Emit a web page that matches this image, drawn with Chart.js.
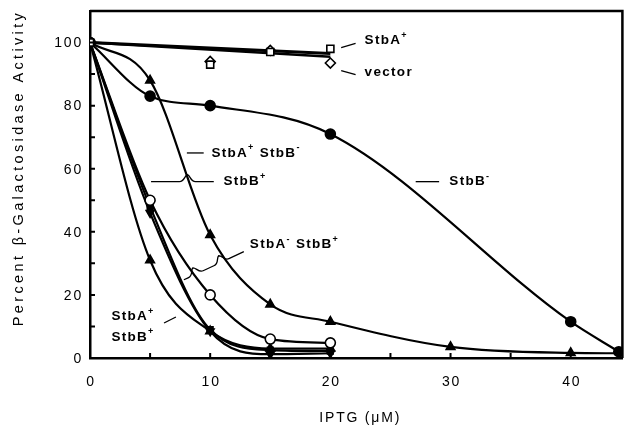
<!DOCTYPE html>
<html>
<head>
<meta charset="utf-8">
<script src="https://cdn.jsdelivr.net/npm/chart.js@4.4.1/dist/chart.umd.min.js"></script>
<style>
  html, body { margin: 0; padding: 0; background: #fff; }
</style>
</head>
<body>
<canvas id="myChart" width="629" height="432"></canvas>
<script>
// ---- data ----
const topDoses = [0, 10, 15, 20];
const stbAPlus = [100, 93, 97, 98];          // open squares
const vectorVals = [100, 94, 97.5, 93.5];    // open diamonds
const fitDoses = [0, 20];
const stbAPlusFit = [100, 96.5];
const vectorFit = [100, 95.5];

const stbBMinusDoses = [0, 5, 10, 20, 40, 44];
const stbBMinus = [100, 83, 80, 71, 11.5, 2];          // filled circles

const stbAPlusBMinusDoses = [0, 5, 10, 15, 20, 30, 40, 44];
const stbAPlusBMinus = [100, 88, 39, 17, 11.5, 3.5, 1.6, 1.5]; // filled triangles

const lowDoses = [0, 5, 10, 15, 20];
const stbAMinusBPlus = [100, 50, 20, 6, 4.8];  // open circles
const stbBPlusA = [100, 46, 8.5, 1.2, 1.5];    // inverted triangles
const stbBPlusB = [100, 48, 9, 2.5, 2.2];      // filled squares
const stbAPlusBPlus = [100, 31, 8.5, 3, 3];    // filled triangles

// axis ticks
const xTickLabels = [0, 10, 20, 30, 40];
const xTickMarks = [5, 10, 15, 20, 25, 30, 35, 40];
const yTickLabels = [0, 20, 40, 60, 80, 100];
const yTickMarks = [10, 20, 30, 40, 50, 60, 70, 80, 90, 100];

const pts = (xs, ys) => xs.map((x, i) => ({ x: x, y: ys[i] }));

// curve labels, in data units
const curveLabels = [
  { text: 'StbA^+', x: 22.85, y: 100.6 },
  { text: 'vector', x: 22.85, y: 90.5 },
  { text: 'StbA^+ StbB^-', x: 10.1, y: 65 },
  { text: 'StbB^+', x: 11.1, y: 55.9 },
  { text: 'StbB^-', x: 29.9, y: 55.9 },
  { text: 'StbA^- StbB^+', x: 13.3, y: 35.9 },
  { text: 'StbA^+', x: 1.78, y: 13.3 },
  { text: 'StbB^+', x: 1.78, y: 6.7 }
];
const leaders = [
  { x1: 20.9, y1: 98.4, x2: 22.1, y2: 99.7, braces: [] },
  { x1: 20.9, y1: 91.1, x2: 22.1, y2: 89.8, braces: [] },
  { x1: 8.06, y1: 65, x2: 9.46, y2: 65, braces: [] },
  { x1: 5.08, y1: 55.9, x2: 10.3, y2: 55.9, braces: [0.58] },
  { x1: 27.1, y1: 55.9, x2: 29.05, y2: 55.9, braces: [] },
  { x1: 7.81, y1: 24.8, x2: 12.8, y2: 33.7, braces: [0.2, 0.63] },
  { x1: 6.16, y1: 11.1, x2: 7.15, y2: 13.0, braces: [] }
];

function curve(data, style, extra) {
  return Object.assign({
    data: data,
    showLine: true,
    borderColor: '#000',
    borderWidth: 2.2,
    cubicInterpolationMode: 'monotone',
    pointStyle: style,
    pointRadius: 4.5,
    pointBorderColor: '#000',
    pointBackgroundColor: '#000',
    pointBorderWidth: 1.6
  }, extra || {});
}

const datasets = [
  curve(pts(topDoses, stbAPlus), 'rect', { showLine: false, pointBackgroundColor: '#fff', pointRadius: 5 }),
  curve(pts(topDoses, vectorVals), 'rectRot', { showLine: false, pointBackgroundColor: '#fff', pointRadius: 5 }),
  curve(pts(fitDoses, stbAPlusFit), 'circle', { pointRadius: 0, borderWidth: 3 }),
  curve(pts(fitDoses, vectorFit), 'circle', { pointRadius: 0, borderWidth: 2.5 }),
  curve(pts(stbBMinusDoses, stbBMinus), 'circle', { pointRadius: 5 }),
  curve(pts(stbAPlusBMinusDoses, stbAPlusBMinus), 'triangle', {
    pointRadius: (c) => c.dataIndex === stbAPlusBMinus.length - 1 ? 0 : 5
  }),
  curve(pts(lowDoses, stbAMinusBPlus), 'circle', { pointBackgroundColor: '#fff', pointRadius: 5 }),
  curve(pts(lowDoses, stbBPlusA), 'triangle', { pointRotation: 180 }),
  curve(pts(lowDoses, stbBPlusB), 'rect', { pointRadius: 4 }),
  curve(pts(lowDoses, stbAPlusBPlus), 'triangle', { pointRadius: 5 })
];

function drawRich(ctx, text, x, y) {
  const parts = text.split(/(\^[+-])/);
  let cx = x;
  parts.forEach((p) => {
    if (!p) return;
    if (p[0] === '^') {
      ctx.font = 'bold 9px "Liberation Sans", Arial, sans-serif';
      ctx.fillText(p[1], cx, y - 5);
      cx += ctx.measureText(p[1]).width;
    } else {
      ctx.font = 'bold 13.5px "Liberation Sans", Arial, sans-serif';
      ctx.fillText(p, cx, y);
      cx += ctx.measureText(p).width;
    }
  });
}

function spacedText(ctx, text, targetWidth) {
  ctx.letterSpacing = '0px';
  const w = ctx.measureText(text).width;
  ctx.letterSpacing = ((targetWidth - w) / (text.length - 1)) + 'px';
}

const decorPlugin = {
  id: 'decor',
  afterDatasetsDraw(chart) {
    const ctx = chart.ctx;
    const xs = chart.scales.x, ys = chart.scales.y;
    const a = chart.chartArea;
    ctx.save();
    ctx.strokeStyle = '#000';
    ctx.fillStyle = '#000';

    // frame top + right
    ctx.lineWidth = 2.5;
    ctx.beginPath();
    ctx.moveTo(a.left, a.top);
    ctx.lineTo(a.right, a.top);
    ctx.lineTo(a.right, a.bottom);
    ctx.stroke();

    // inward tick marks
    ctx.lineWidth = 2;
    ctx.beginPath();
    yTickMarks.forEach((v) => {
      const py = ys.getPixelForValue(v);
      ctx.moveTo(a.left, py);
      ctx.lineTo(a.left + 5, py);
    });
    xTickMarks.forEach((v) => {
      const px = xs.getPixelForValue(v);
      ctx.moveTo(px, a.bottom);
      ctx.lineTo(px, a.bottom - 5);
    });
    ctx.stroke();

    // tick labels
    ctx.font = '14px "Liberation Sans", Arial, sans-serif';
    ctx.letterSpacing = '1.8px';
    ctx.textBaseline = 'middle';
    ctx.textAlign = 'right';
    yTickLabels.forEach((v) => {
      ctx.fillText(String(v), a.left - 7, ys.getPixelForValue(v) + 1);
    });
    ctx.textAlign = 'center';
    xTickLabels.forEach((v) => {
      ctx.fillText(String(v), xs.getPixelForValue(v) + 1, a.bottom + 24);
    });

    // axis titles
    ctx.font = '14px "Liberation Sans", Arial, sans-serif';
    spacedText(ctx, 'IPTG (\u03bcM)', 80);
    ctx.fillText('IPTG (\u03bcM)', (a.left + a.right) / 2 + 4, 418);
    ctx.save();
    ctx.translate(19, 168);
    ctx.rotate(-Math.PI / 2);
    ctx.font = '14.5px "Liberation Sans", Arial, sans-serif';
    spacedText(ctx, 'Percent \u03b2-Galactosidase Activity', 313);
    ctx.fillText('Percent \u03b2-Galactosidase Activity', 0, 0);
    ctx.restore();
    ctx.letterSpacing = '0px';

    // leader lines with braces
    ctx.lineWidth = 1.3;
    leaders.forEach((l) => {
      const x1 = xs.getPixelForValue(l.x1), y1 = ys.getPixelForValue(l.y1);
      const x2 = xs.getPixelForValue(l.x2), y2 = ys.getPixelForValue(l.y2);
      const ang = Math.atan2(y2 - y1, x2 - x1);
      const len = Math.hypot(x2 - x1, y2 - y1);
      ctx.save();
      ctx.translate(x1, y1);
      ctx.rotate(ang);
      ctx.beginPath();
      let start = 0;
      l.braces.forEach((t) => {
        const c = t * len;
        ctx.moveTo(start, 0);
        ctx.lineTo(c - 8, 0);
        ctx.bezierCurveTo(c - 3, 0, c - 3, -6, c, -7);
        ctx.bezierCurveTo(c + 3, -6, c + 3, 0, c + 8, 0);
        start = c + 8;
      });
      ctx.moveTo(start, 0);
      ctx.lineTo(len, 0);
      ctx.stroke();
      ctx.restore();
    });

    // curve labels
    ctx.textAlign = 'left';
    ctx.textBaseline = 'middle';
    ctx.letterSpacing = '1.3px';
    curveLabels.forEach((lb) => {
      drawRich(ctx, lb.text, xs.getPixelForValue(lb.x), ys.getPixelForValue(lb.y));
    });
    ctx.restore();
  }
};

const ctx = document.getElementById('myChart').getContext('2d');
new Chart(ctx, {
  type: 'scatter',
  data: { datasets: datasets },
  options: {
    responsive: false,
    animation: false,
    layout: { padding: { top: 11, right: 2, left: 0, bottom: 0 } },
    plugins: { legend: { display: false }, tooltip: { enabled: false } },
    scales: {
      x: {
        type: 'linear', min: 0, max: 44.3,
        ticks: { display: false },
        grid: { drawOnChartArea: false, drawTicks: false },
        border: { display: true, color: '#000', width: 2.5 },
        afterFit: (s) => { s.height = 74; }
      },
      y: {
        type: 'linear', min: 0, max: 110,
        ticks: { display: false },
        grid: { drawOnChartArea: false, drawTicks: false },
        border: { display: true, color: '#000', width: 2.5 },
        afterFit: (s) => { s.width = 90; }
      }
    }
  },
  plugins: [decorPlugin]
});
</script>
</body>
</html>
